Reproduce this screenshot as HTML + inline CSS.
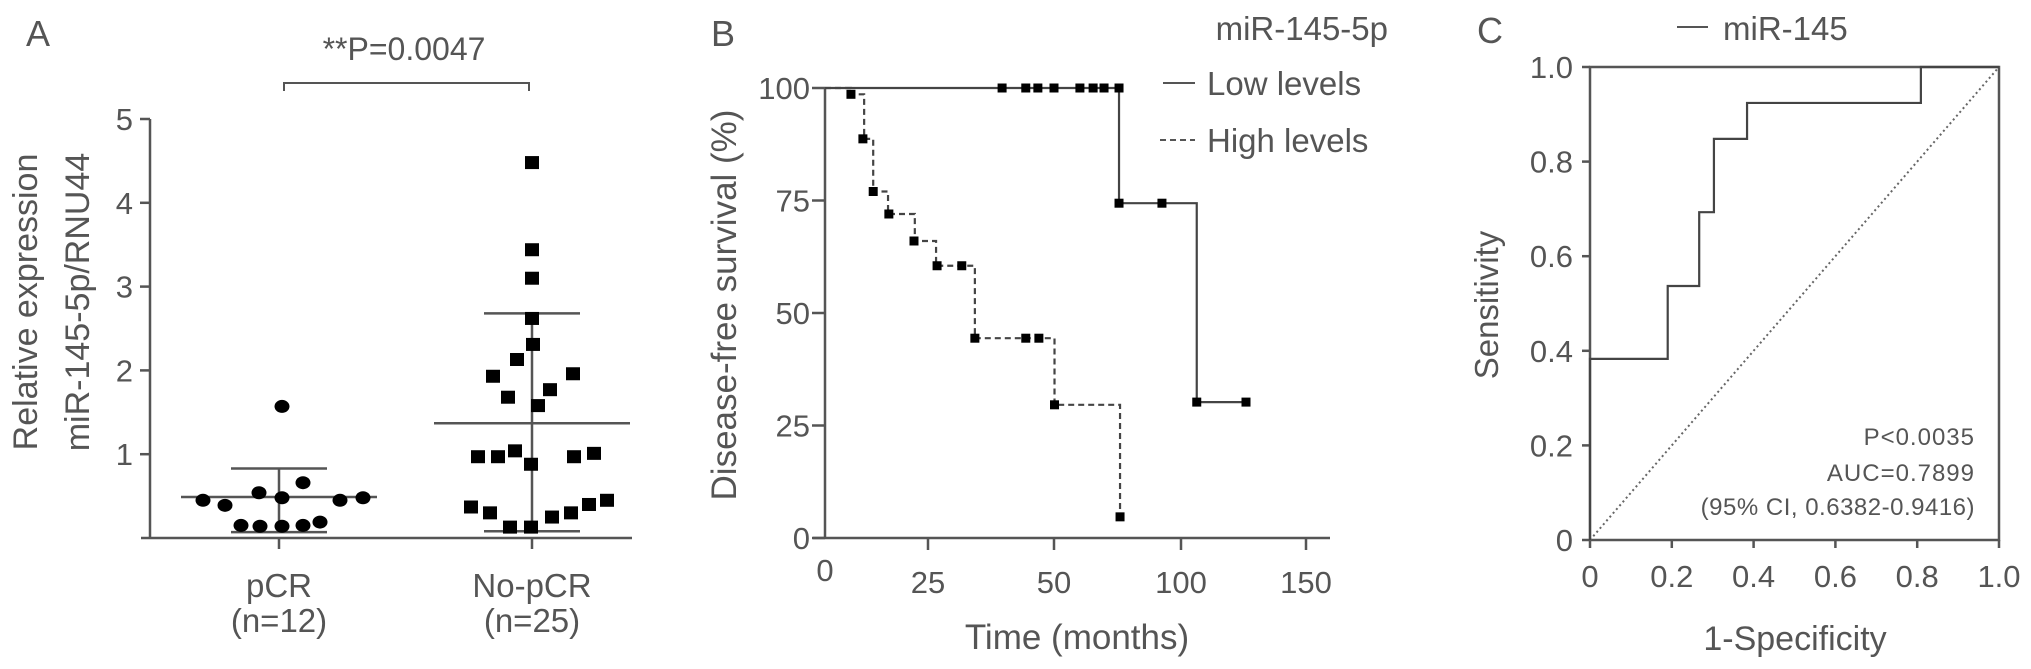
<!DOCTYPE html>
<html><head><meta charset="utf-8">
<style>
html,body{margin:0;padding:0;background:#fff;}
svg{display:block;}
text{font-family:"Liberation Sans",sans-serif;fill:#555;}
</style></head>
<body>
<svg id="fig" width="2031" height="669" viewBox="0 0 2031 669" xmlns="http://www.w3.org/2000/svg">
  <!-- Panel A static text -->
  <text x="26" y="46" font-size="36">A</text>
  <text x="404" y="60" font-size="32" text-anchor="middle">**P=0.0047</text>
  <path d="M284,91 V83 H529 V91" fill="none" stroke="#555" stroke-width="2"/>
  <text transform="translate(37,302) rotate(-90)" font-size="34" text-anchor="middle">Relative expression</text>
  <text transform="translate(89,302) rotate(-90)" font-size="34" text-anchor="middle">miR-145-5p/RNU44</text>

  <!-- Panel B static text -->
  <text x="711" y="46" font-size="36">B</text>
  <text transform="translate(736,305) rotate(-90)" font-size="35" text-anchor="middle">Disease-free survival (%)</text>
  <text x="1077" y="649" font-size="35" text-anchor="middle">Time (months)</text>
  <text x="1388" y="40" font-size="33" text-anchor="end">miR-145-5p</text>
  <line x1="1163" y1="83" x2="1195" y2="83" stroke="#555" stroke-width="2"/>
  <text x="1207" y="95" font-size="33">Low levels</text>
  <line x1="1160" y1="140" x2="1195" y2="140" stroke="#555" stroke-width="2" stroke-dasharray="6,4"/>
  <text x="1207" y="152" font-size="33">High levels</text>

  <!-- Panel C static text -->
  <text x="1477" y="43" font-size="36">C</text>
  <line x1="1677" y1="27" x2="1708" y2="27" stroke="#555" stroke-width="2"/>
  <text x="1723" y="40" font-size="33">miR-145</text>
  <text transform="translate(1498,305) rotate(-90)" font-size="33" text-anchor="middle">Sensitivity</text>
  <text x="1795" y="650" font-size="34" text-anchor="middle">1-Specificity</text>
  <text x="1975" y="445" font-size="24" text-anchor="end" letter-spacing="1">P&lt;0.0035</text>
  <text x="1975" y="481" font-size="24" text-anchor="end" letter-spacing="1">AUC=0.7899</text>
  <text x="1975" y="515" font-size="24" text-anchor="end" letter-spacing="0.5">(95% CI, 0.6382-0.9416)</text>
</svg>
<script>
// ---------- Panel A data ----------
const catA = ['pCR', 'No-pCR'];
const catASub = ['(n=12)', '(n=25)'];
const ticksA = [1, 2, 3, 4, 5];
const pcrValues = [0.45, 0.39, 0.54, 0.48, 0.66, 0.45, 0.48, 0.15, 0.14, 0.14, 0.15, 0.19, 1.57];
const pcrJitter = [-76, -54, -20, 3, 24, 61, 84, -38, -19, 3, 24, 41, 3];
const nopcrValues = [4.48, 3.44, 3.10, 2.62, 2.31, 2.13, 1.93, 1.96, 1.77, 1.68, 1.58, 0.97, 0.97, 1.04, 0.88, 0.97, 1.01, 0.37, 0.30, 0.13, 0.13, 0.25, 0.30, 0.40, 0.45];
const nopcrJitter = [0, 0, 0, 0, 1, -15, -39, 41, 18, -24, 6, -54, -34, -17, -1, 42, 62, -61, -42, -22, -1, 20, 39, 57, 75];
const groupMean = [0.49, 1.37];
const groupUpper = [0.83, 2.68];
const groupLower = [0.07, 0.08];

// ---------- Panel B data ----------
const ticksBY = [0, 25, 50, 75, 100];
const ticksBX = [0, 25, 50, 100, 150];
const lowTimes = [0, 75.6, 106.3];
const lowSurv = [100, 74.4, 30.2];
const lowEnd = 126;
const lowMarkTimes = [39.7, 44.4, 46.8, 50, 60.2, 65.4, 69.7, 75.6, 75.6, 92.5, 106.3, 126];
const lowMarkSurv = [100, 100, 100, 100, 100, 100, 100, 100, 74.4, 74.4, 30.2, 30.2];
const highTimes = [0, 6.3, 9.5, 11.7, 15.3, 21.8, 26.6, 34.3, 50.2, 76];
const highSurv = [100, 98.6, 88.7, 77, 72, 66, 60.5, 44.4, 29.6, 4.7];
const highMarkTimes = [6.3, 9.2, 11.7, 15.5, 21.6, 26.8, 31.7, 34.3, 44.4, 47, 50.2, 76];
const highMarkSurv = [98.6, 88.7, 77, 72, 66, 60.5, 60.5, 44.4, 44.4, 44.4, 29.6, 4.7];

// ---------- Panel C data ----------
const ticksC = [0, 0.2, 0.4, 0.6, 0.8, 1.0];
const tickLabelsC = ['0', '0.2', '0.4', '0.6', '0.8', '1.0'];
const rocFpr = [0, 0, 0.19, 0.19, 0.267, 0.267, 0.303, 0.303, 0.384, 0.384, 0.809, 0.809, 1.0];
const rocTpr = [0, 0.383, 0.383, 0.537, 0.537, 0.693, 0.693, 0.848, 0.848, 0.924, 0.924, 1.0, 1.0];

const NS = 'http://www.w3.org/2000/svg';
const svg = document.getElementById('fig');
function mk(tag, attrs) {
  const el = document.createElementNS(NS, tag);
  for (const k in attrs) el.setAttribute(k, attrs[k]);
  svg.appendChild(el);
  return el;
}
const AX = '#555';

// ===== Panel A =====
const yA = v => 538 - v * 83.8;
const catX = [279, 532];
let el;
el = mk('line', {x1: 150, y1: yA(5), x2: 150, y2: 538, stroke: AX, 'stroke-width': 2.5});


el = mk('line', {x1: 141, y1: 538, x2: 632, y2: 538, stroke: AX, 'stroke-width': 2.5});


ticksA.forEach(t => {
  el = mk('line', {x1: 140, y1: yA(t), x2: 150, y2: yA(t), stroke: AX, 'stroke-width': 2.5});
  
  
  el = mk('text', {x: 133, y: yA(t) + 11, 'font-size': 31, 'text-anchor': 'end'});
  el.textContent = String(t);
  
  
});
catA.forEach((c, i) => {
  el = mk('line', {x1: catX[i], y1: 538, x2: catX[i], y2: 549, stroke: AX, 'stroke-width': 2.5});
  
  
  el = mk('text', {x: catX[i], y: 597, 'font-size': 33, 'text-anchor': 'middle'});
  el.textContent = c;
  
  
  el = mk('text', {x: catX[i], y: 632, 'font-size': 33, 'text-anchor': 'middle'});
  el.textContent = catASub[i];
  
  
  // mean and sd
  el = mk('line', {x1: catX[i] - 98, y1: yA(groupMean[i]), x2: catX[i] + 98, y2: yA(groupMean[i]), stroke: AX, 'stroke-width': 2.5});
  
  
  el = mk('line', {x1: catX[i], y1: yA(groupUpper[i]), x2: catX[i], y2: yA(groupLower[i]), stroke: AX, 'stroke-width': 2.5});
  
  
  el = mk('line', {x1: catX[i] - 48, y1: yA(groupUpper[i]), x2: catX[i] + 48, y2: yA(groupUpper[i]), stroke: AX, 'stroke-width': 2.5});
  
  
  el = mk('line', {x1: catX[i] - 48, y1: yA(groupLower[i]), x2: catX[i] + 48, y2: yA(groupLower[i]), stroke: AX, 'stroke-width': 2.5});
  
  
});
pcrValues.forEach((v, i) => {
  el = mk('ellipse', {cx: catX[0] + pcrJitter[i], cy: yA(v), rx: 7.5, ry: 6.5, fill: '#000'});
  
  
});
nopcrValues.forEach((v, i) => {
  el = mk('rect', {x: catX[1] + nopcrJitter[i] - 7, y: yA(v) - 6.5, width: 14, height: 13, fill: '#000'});
  
  
});

// ===== Panel B =====
const bxPx = [825, 928, 1054, 1181, 1306];
function xB(t) {
  for (let i = 0; i < ticksBX.length - 1; i++) {
    if (t <= ticksBX[i + 1] || i === ticksBX.length - 2) {
      return bxPx[i] + (t - ticksBX[i]) / (ticksBX[i + 1] - ticksBX[i]) * (bxPx[i + 1] - bxPx[i]);
    }
  }
}
const yB = s => 538 - s * 4.5;
el = mk('line', {x1: 825, y1: yB(100), x2: 825, y2: 538, stroke: AX, 'stroke-width': 2.5});


el = mk('line', {x1: 813, y1: 538, x2: 1330, y2: 538, stroke: AX, 'stroke-width': 2.5});


ticksBY.forEach(t => {
  el = mk('line', {x1: 812, y1: yB(t), x2: 825, y2: yB(t), stroke: AX, 'stroke-width': 2.5});
  
  
  el = mk('text', {x: 810, y: yB(t) + 11, 'font-size': 31, 'text-anchor': 'end'});
  el.textContent = String(t);
  
  
});
ticksBX.forEach((t, i) => {
  if (i > 0) {
    el = mk('line', {x1: xB(t), y1: 538, x2: xB(t), y2: 550, stroke: AX, 'stroke-width': 2.5});
    
    
  }
  el = mk('text', {x: xB(t), y: i === 0 ? 581 : 593, 'font-size': 31, 'text-anchor': 'middle'});
  el.textContent = String(t);
  
  
});
function stepPath(times, surv, end) {
  let d = 'M' + xB(times[0]) + ',' + yB(surv[0]);
  for (let i = 1; i < times.length; i++) {
    d += ' H' + xB(times[i]) + ' V' + yB(surv[i]);
  }
  if (end !== undefined) d += ' H' + xB(end);
  return d;
}
el = mk('path', {d: stepPath(lowTimes, lowSurv, lowEnd), fill: 'none', stroke: '#444', 'stroke-width': 2.2});


el = mk('path', {d: stepPath(highTimes, highSurv), fill: 'none', stroke: '#444', 'stroke-width': 2.2, 'stroke-dasharray': '6,4'});


lowMarkTimes.forEach((t, i) => {
  el = mk('rect', {x: xB(t) - 4.5, y: yB(lowMarkSurv[i]) - 4.5, width: 9, height: 9, fill: '#000'});
  
  
});
highMarkTimes.forEach((t, i) => {
  el = mk('rect', {x: xB(t) - 4.5, y: yB(highMarkSurv[i]) - 4.5, width: 9, height: 9, fill: '#000'});
  
  
});

// ===== Panel C =====
const xC = f => 1590 + f * 409;
const yC = s => 540 - s * 473;
el = mk('rect', {x: xC(0), y: yC(1), width: xC(1) - xC(0), height: yC(0) - yC(1), fill: 'none', stroke: AX, 'stroke-width': 2.5});


ticksC.forEach((t, i) => {
  el = mk('line', {x1: 1582, y1: yC(t), x2: 1590, y2: yC(t), stroke: AX, 'stroke-width': 2.5});
  
  
  el = mk('text', {x: 1573, y: yC(t) + 11, 'font-size': 31, 'text-anchor': 'end'});
  el.textContent = tickLabelsC[i];
  
  
  el = mk('line', {x1: xC(t), y1: 540, x2: xC(t), y2: 548, stroke: AX, 'stroke-width': 2.5});
  
  
  el = mk('text', {x: xC(t), y: 587, 'font-size': 31, 'text-anchor': 'middle'});
  el.textContent = tickLabelsC[i];
  
  
});
el = mk('line', {x1: xC(0), y1: yC(0), x2: xC(1), y2: yC(1), stroke: '#666', 'stroke-width': 2, 'stroke-dasharray': '2,3'});


el = mk('polyline', {points: rocFpr.map((f, i) => xC(f) + ',' + yC(rocTpr[i])).join(' '), fill: 'none', stroke: '#444', 'stroke-width': 2.2});


</script>
</body></html>
